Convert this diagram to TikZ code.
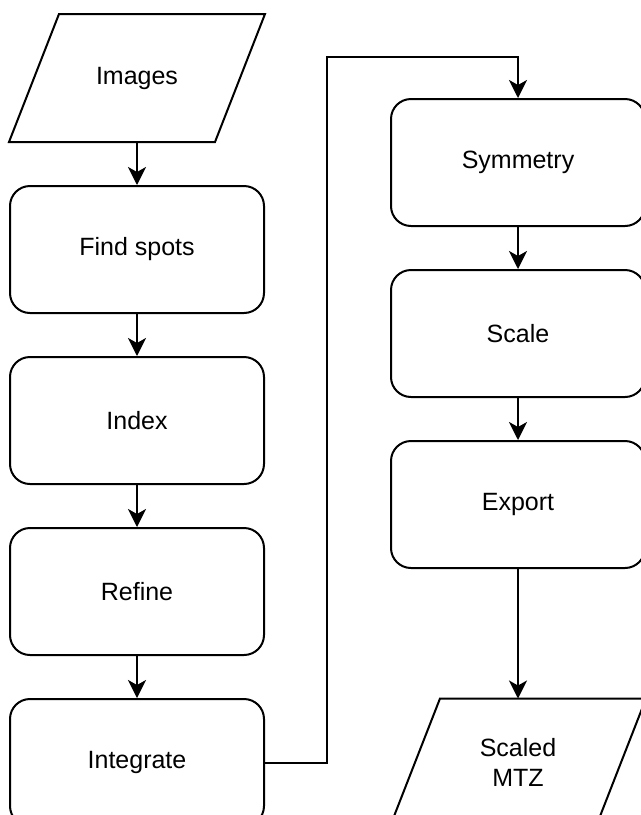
\documentclass[tikz,border=0pt]{standalone}
\usepackage{fontspec}
\setmainfont{Liberation Sans}
\usetikzlibrary{positioning, arrows.meta}

\begin{document}
\begin{tikzpicture}[x=0.5pt,y=-0.5pt,font=\fontsize{12.5}{15}\selectfont,line width=1pt]
% Node styles: step box and data
\tikzstyle{step box}=[rectangle,draw,rounded corners=10pt,minimum width=127pt,minimum height=63.5pt,align=center];
\tikzstyle{data io}=[rectangle,minimum width=102pt,minimum height=63pt,align=center];
\tikzstyle{flow}=[-{Stealth[length=9pt,width=9pt,inset=2.5pt]}];
\useasboundingbox(0,0)rectangle(641,815);
\clip(0,0)rectangle(641,815);
% Left column
\node(images)[data io]at(137,78){Images};
\node(findspots)[step box,below=21.5pt of images]{Find spots};
\node(index)[step box,below=21pt of findspots]{Index};
\node(refine)[step box,below=21pt of index]{Refine};
\node(integrate)[step box,below=21pt of refine]{Integrate};
% Right column
\node(symmetry)[step box]at(518,162.5){Symmetry};
\node(scale)[step box,below=21pt of symmetry]{Scale};
\node(export)[step box,below=21pt of scale]{Export};
\node(scaledmtz)[data io]at(export|-integrate){Scaled\\MTZ};
% Slanted outlines of the data nodes
\foreach \n in {images,scaledmtz}
\draw([xshift=12.5pt]\n.north west)--([xshift=12.5pt]\n.north east)--([xshift=-12.5pt]\n.south east)--([xshift=-12.5pt]\n.south west)--cycle;
% Connectors
\foreach \a/\b in {images/findspots,findspots/index,index/refine,refine/integrate,symmetry/scale,scale/export,export/scaledmtz}
\draw[flow](\a)--(\b);
\coordinate(turn)at(327,57);
\draw[flow](integrate.east)-|(turn)-|(symmetry.north);
\end{tikzpicture}
\end{document}
